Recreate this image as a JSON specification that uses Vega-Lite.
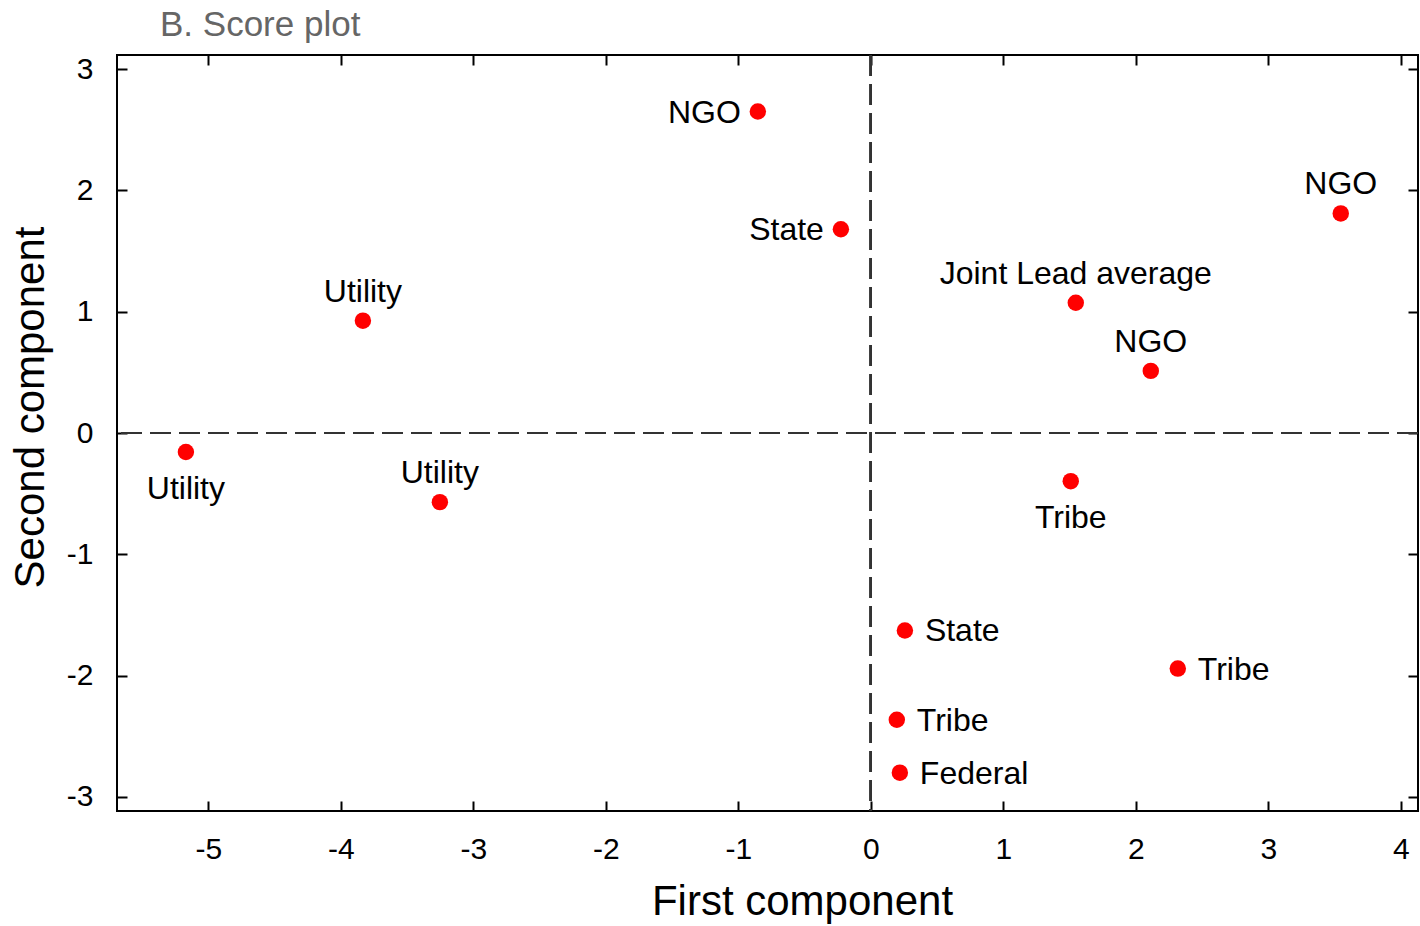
{
  "$schema": "https://vega.github.io/schema/vega-lite/v6.json",
  "width": 1301,
  "height": 756,
  "autosize": "none",
  "padding": {"left": 117, "top": 55, "right": 2, "bottom": 115},
  "background": "white",
  "config": {
    "font": "Liberation Sans",
    "view": {"stroke": "black", "strokeWidth": 2},
    "axis": {"grid": false, "domain": false, "tickColor": "black", "tickWidth": 2, "labelColor": "black", "titleColor": "black", "titleFontWeight": "normal", "labelExpr": "'' + datum.value"}
  },
  "title": {
    "text": "B. Score plot",
    "anchor": "start",
    "frame": "group",
    "dx": 43,
    "offset": 11,
    "fontSize": 35,
    "fontWeight": "normal",
    "color": "#666666",
    "font": "Liberation Sans"
  },
  "data": {
    "values": [
      {"id": 1, "group": "NGO", "first": -0.853, "second": 2.65},
      {"id": 2, "group": "State", "first": -0.226, "second": 1.68},
      {"id": 3, "group": "NGO", "first": 3.547, "second": 1.81},
      {"id": 4, "group": "Joint Lead average", "first": 1.547, "second": 1.074},
      {"id": 5, "group": "NGO", "first": 2.113, "second": 0.512},
      {"id": 6, "group": "Utility", "first": -3.834, "second": 0.926},
      {"id": 7, "group": "Utility", "first": -5.17, "second": -0.157},
      {"id": 8, "group": "Utility", "first": -3.253, "second": -0.57},
      {"id": 9, "group": "Tribe", "first": 1.509, "second": -0.397},
      {"id": 10, "group": "State", "first": 0.257, "second": -1.628},
      {"id": 11, "group": "Tribe", "first": 2.317, "second": -1.942},
      {"id": 12, "group": "Tribe", "first": 0.196, "second": -2.364},
      {"id": 13, "group": "Federal", "first": 0.219, "second": -2.8}
    ]
  },
  "resolve": {"axis": {"x": "independent", "y": "independent"}},
  "layer": [
    {
      "mark": {"type": "rule", "color": "#333333", "strokeWidth": 2, "strokeDash": [21, 8]},
      "encoding": {
        "x": {"datum": 0, "type": "quantitative", "scale": {"domain": [-5.69, 4.13], "nice": false, "zero": false},
          "axis": {"orient": "bottom", "values": [-5, -4, -3, -2, -1, 0, 1, 2, 3, 4], "tickSize": -10, "labelPadding": 33, "labelFontSize": 30, "title": "First component", "titleFontSize": 42, "titlePadding": 17, "titleX": 685}},
        "y": {"datum": 0, "type": "quantitative", "scale": {"domain": [-3.116, 3.116], "nice": false, "zero": false},
          "axis": {"orient": "left", "values": [-3, -2, -1, 0, 1, 2, 3], "tickSize": -10, "labelPadding": 34, "labelFontSize": 30, "title": "Second component", "titleFontSize": 42, "titlePadding": 14, "titleY": 352}}
      }
    },
    {
      "mark": {"type": "rule", "color": "#333333", "strokeWidth": 2, "strokeDash": [21, 8]},
      "encoding": {
        "x": {"datum": 0, "type": "quantitative",
          "axis": {"orient": "top", "values": [-5, -4, -3, -2, -1, 0, 1, 2, 3, 4], "tickSize": -10, "labels": false, "title": null}}
      }
    },
    {
      "mark": {"type": "rule", "color": "#333333", "strokeWidth": 2, "strokeDash": [21, 8]},
      "encoding": {
        "y": {"datum": 0, "type": "quantitative",
          "axis": {"orient": "right", "values": [-3, -2, -1, 0, 1, 2, 3], "tickSize": -10, "labels": false, "title": null}}
      }
    },
    {
      "mark": {"type": "circle", "color": "#ff0000", "opacity": 1, "size": 270},
      "encoding": {
        "x": {"field": "first", "type": "quantitative", "axis": null},
        "y": {"field": "second", "type": "quantitative", "axis": null}
      }
    },
    {
      "transform": [{"filter": {"field": "id", "oneOf": [1, 2]}}],
      "mark": {"type": "text", "align": "right", "baseline": "middle", "dx": -17, "dy": 1, "fontSize": 32, "color": "black"},
      "encoding": {
        "x": {"field": "first", "type": "quantitative", "axis": null},
        "y": {"field": "second", "type": "quantitative", "axis": null},
        "text": {"field": "group"}
      }
    },
    {
      "transform": [{"filter": {"field": "id", "oneOf": [3, 4, 5, 6, 8]}}],
      "mark": {"type": "text", "align": "center", "baseline": "alphabetic", "dy": -19, "fontSize": 32, "color": "black"},
      "encoding": {
        "x": {"field": "first", "type": "quantitative", "axis": null},
        "y": {"field": "second", "type": "quantitative", "axis": null},
        "text": {"field": "group"}
      }
    },
    {
      "transform": [{"filter": {"field": "id", "oneOf": [7, 9]}}],
      "mark": {"type": "text", "align": "center", "baseline": "alphabetic", "dy": 47, "fontSize": 32, "color": "black"},
      "encoding": {
        "x": {"field": "first", "type": "quantitative", "axis": null},
        "y": {"field": "second", "type": "quantitative", "axis": null},
        "text": {"field": "group"}
      }
    },
    {
      "transform": [{"filter": {"field": "id", "oneOf": [10, 11, 12, 13]}}],
      "mark": {"type": "text", "align": "left", "baseline": "middle", "dx": 20, "dy": 1, "fontSize": 32, "color": "black"},
      "encoding": {
        "x": {"field": "first", "type": "quantitative", "axis": null},
        "y": {"field": "second", "type": "quantitative", "axis": null},
        "text": {"field": "group"}
      }
    }
  ]
}
